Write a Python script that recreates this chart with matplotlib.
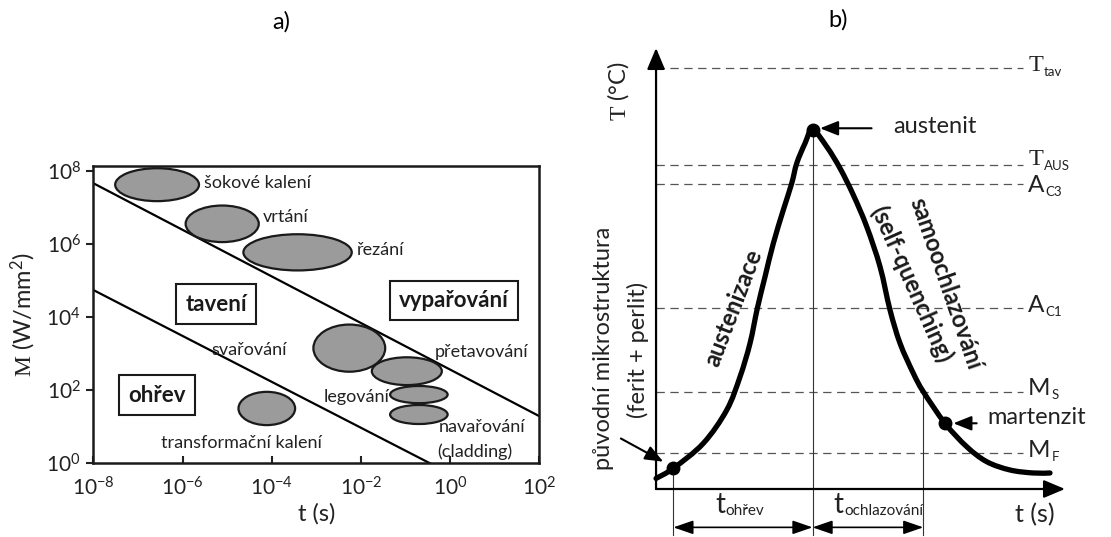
import matplotlib
matplotlib.use("Agg")
import matplotlib.pyplot as plt
from matplotlib.patches import Ellipse, PathPatch
from matplotlib.path import Path

plt.rcParams["font.family"] = ["Lato", "DejaVu Sans"]
plt.rcParams["mathtext.fontset"] = "custom"
plt.rcParams["mathtext.default"] = "regular"
plt.rcParams["mathtext.tt"] = "Liberation Serif"
plt.rcParams["lines.scale_dashes"] = False
plt.rcParams["axes.unicode_minus"] = False

# ---- a) process map, everything in decades (log10 t, log10 M) ----
proc_names = ["šokové kalení", "vrtání", "řezání", "svařování", "přetavování",
              "legování", "navařování", "transformační kalení"]
proc_logt = [-6.57, -5.11, -3.42, -2.26, -0.97, -0.70, -0.70, -4.11]
proc_logM = [7.62, 6.55, 5.77, 3.15, 2.52, 1.88, 1.335, 1.50]
proc_span_t = [1.88, 1.64, 2.43, 1.61, 1.57, 1.29, 1.29, 1.27]
proc_span_M = [0.90, 1.00, 0.99, 1.29, 0.76, 0.47, 0.52, 0.91]

# regime boundaries
vapor_t = [-8, 2]
vapor_M = [7.66, 1.29]
melt_t = [-8, -0.45]
melt_M = [4.74, 0]

regions = ["tavení", "vypařování", "ohřev"]
region_t = [-5.25, 0.09, -6.58]
region_M = [4.35, 4.45, 1.86]

x_ticks = [-8, -6, -4, -2, 0, 2]
y_ticks = [0, 2, 4, 6, 8]

# ---- b) temperature cycle of laser hardening ----
level_main = ["T", "T", "A", "A", "M", "M"]
level_sub = ["tav", "AUS", "C3", "C1", "S", "F"]
level_T = [95.4, 73.5, 69.1, 41.0, 22.1, 8.05]

cycle_t = [0.0, 4.23, 11.56, 17.29, 20.54, 22.98, 24.77, 26.65, 28.68, 31.12,
           33.18, 34.40, 36.43, 38.26, 41.74, 44.99, 48.24, 51.52, 54.77,
           57.21, 59.66, 62.91, 65.35, 70.66, 75.97, 80.86, 86.55, 92.25, 96.33]
cycle_T = [2.4, 4.69, 10.36, 17.91, 25.46, 33.04, 40.98, 48.14, 55.71, 63.27,
           69.32, 73.85, 78.39, 81.52, 77.62, 72.72, 66.67, 59.48, 50.41,
           40.59, 33.04, 26.24, 22.06, 14.90, 9.59, 6.19, 4.31, 3.63, 3.63]

start_pt = (4.23, 4.69)
peak_pt = (38.26, 81.52)
mart_pt = (70.66, 14.90)
ms_cross_t = 65.35


def smooth_path(xs, ys):
    # Catmull-Rom through the points, written as cubic Bezier segments
    pts = list(zip(xs, ys))
    n = len(pts)
    verts = [pts[0]]
    codes = [Path.MOVETO]
    for i in range(n - 1):
        p0 = pts[max(i - 1, 0)]
        p1 = pts[i]
        p2 = pts[i + 1]
        p3 = pts[min(i + 2, n - 1)]
        c1 = (p1[0] + (p2[0] - p0[0]) / 6, p1[1] + (p2[1] - p0[1]) / 6)
        c2 = (p2[0] - (p3[0] - p1[0]) / 6, p2[1] - (p3[1] - p1[1]) / 6)
        verts += [c1, c2, p2]
        codes += [Path.CURVE4] * 3
    return Path(verts, codes)


def sub_text(ax, x, y, main, sub, fs, sub_fs, main_family=None, sub_y=0.0):
    kw = {"family": main_family} if main_family else {}
    t = ax.text(x, y, main, ha="left", va="center", fontsize=fs,
                color="#222222", **kw)
    ax.annotate(sub, xy=(1.0, sub_y), xycoords=t, xytext=(0.5, 0),
                textcoords="offset points", ha="left", va="bottom",
                fontsize=sub_fs, color="#222222")
    return t


fig = plt.figure(figsize=(11.11, 5.37), dpi=100)

# ------------------------------------------------------------------ a)
ax = fig.add_axes([0.0840, 0.1372, 0.4014, 0.5536])
ax.set_xlim(-8, 2)
ax.set_ylim(0, 8.13)

ax.plot(vapor_t, vapor_M, color="black", lw=1.6, zorder=2)
ax.plot(melt_t, melt_M, color="black", lw=1.6, zorder=2)

for t, m, w, h in zip(proc_logt, proc_logM, proc_span_t, proc_span_M):
    ax.add_patch(Ellipse((t, m), w, h, facecolor="#9b9b9b",
                         edgecolor="#1a1a1a", lw=1.6, zorder=3))

lab_fs = 13
label_pos = {
    "šokové kalení": (-5.52, 7.66, "left"),
    "vrtání": (-4.19, 6.75, "left"),
    "řezání": (-2.08, 5.84, "left"),
    "svařování": (-5.35, 3.10, "left"),
    "přetavování": (-0.34, 3.05, "left"),
    "legování": (-1.35, 1.82, "right"),
    "navařování": (-0.26, 1.00, "left"),
    "transformační kalení": (-6.49, 0.55, "left"),
}
for name in proc_names:
    x, y, ha = label_pos[name]
    ax.text(x, y, name, ha=ha, va="center", fontsize=lab_fs,
            color="#222222", zorder=4)
ax.text(-0.29, 0.32, "(cladding)", ha="left", va="center",
        fontsize=lab_fs, color="#222222", zorder=4)

for name, t, m in zip(regions, region_t, region_M):
    ax.text(t, m, name, ha="center", va="center", fontsize=16,
            fontweight="bold", color="#1a1a1a", zorder=4,
            bbox=dict(boxstyle="square,pad=0.42", facecolor="white",
                      edgecolor="#1a1a1a", lw=1.5))

ax.set_xticks(x_ticks)
ax.set_xticklabels([r"$10^{%d}$" % v for v in x_ticks])
ax.set_yticks(y_ticks)
ax.set_yticklabels([r"$10^{%d}$" % v for v in y_ticks])
ax.tick_params(axis="x", direction="in", length=5, width=1.5,
               labelsize=15, pad=9, colors="#222222")
ax.tick_params(axis="y", direction="out", length=5, width=1.5,
               labelsize=15, pad=4, colors="#222222")
for s in ax.spines.values():
    s.set_linewidth(1.8)
    s.set_color("#1a1a1a")

ax.set_xlabel("t (s)", fontsize=17, color="#222222", labelpad=3)
ax.set_ylabel(r"$\mathtt{M}$ (W/mm$^2$)", fontsize=17, color="#222222",
              labelpad=6)

fig.text(281 / 1111, 1 - 22 / 537, "a)", ha="center", va="center",
         fontsize=17)

# ------------------------------------------------------------------ b)
bx = fig.add_axes([0.5905, 0.0894, 0.3681, 0.8212])
bx.set_xlim(0, 100)
bx.set_ylim(0, 100)
bx.axis("off")

axis_arrow = dict(arrowstyle="-|>,head_length=1.0,head_width=0.42",
                  mutation_scale=13, lw=1.6, color="black",
                  shrinkA=0, shrinkB=0)
bx.annotate("", xy=(0, 100), xytext=(0, 0), arrowprops=axis_arrow,
            annotation_clip=False)
bx.annotate("", xy=(100, 0), xytext=(0, 0), arrowprops=axis_arrow,
            annotation_clip=False)

# small nudges keep the two close labels (T_AUS, A_C3) apart
label_nudge = [0.6, 1.2, -0.3, 0.6, 0.6, 0.6]
for main, sub, T, dy in zip(level_main, level_sub, level_T, label_nudge):
    bx.plot([0, 89.7], [T, T], ls=(0, (6, 4)), lw=0.9, color="#555555",
            zorder=1)
    fam = "Liberation Serif" if main == "T" else None
    sub_text(bx, 91.0, T + dy, main, sub, 17.5, 9.5, fam, sub_y=-0.08)

# time markers below the axis
bottom = -10.4
for t, T in [start_pt, peak_pt, (ms_cross_t, level_T[4])]:
    bx.plot([t, t], [bottom, T], color="#333333", lw=0.8, zorder=1,
            clip_on=False)

span_arrow = dict(arrowstyle="<|-|>,head_length=1.1,head_width=0.38",
                  mutation_scale=11, lw=1.2, color="black",
                  shrinkA=0, shrinkB=0)
bx.annotate("", xy=(peak_pt[0], -8.7), xytext=(start_pt[0], -8.7),
            arrowprops=span_arrow, annotation_clip=False)
bx.annotate("", xy=(ms_cross_t, -8.7), xytext=(peak_pt[0], -8.7),
            arrowprops=span_arrow, annotation_clip=False)
sub_text(bx, 14.4, -3.6, "t", "ohřev", 20, 11)
sub_text(bx, 43.4, -3.6, "t", "ochlazování", 20, 11)
bx.text(92.5, -5.9, "t (s)", ha="center", va="center", fontsize=18,
        color="#222222")

bx.add_patch(PathPatch(smooth_path(cycle_t, cycle_T), facecolor="none",
                       edgecolor="black", lw=3.8, capstyle="round",
                       joinstyle="round", zorder=3, clip_on=False))
for p in (start_pt, peak_pt, mart_pt):
    bx.plot(*p, "o", color="black", ms=9, zorder=4)

point_arrow = dict(arrowstyle="-|>,head_length=1.0,head_width=0.4",
                   mutation_scale=11, lw=1.5, color="black",
                   shrinkA=0, shrinkB=0)
bx.annotate("", xy=(40.1, 81.8), xytext=(52.7, 81.8),
            arrowprops=point_arrow, annotation_clip=False)
bx.text(57.9, 82.2, "austenit", ha="left", va="center", fontsize=17,
        color="#222222")
bx.annotate("", xy=(72.7, 14.9), xytext=(78.4, 14.9),
            arrowprops=point_arrow, annotation_clip=False)
bx.text(80.9, 16.1, "martenzit", ha="left", va="center", fontsize=17,
        color="#222222")
bx.annotate("", xy=(1.78, 6.19), xytext=(-8.6, 11.45),
            arrowprops=point_arrow, annotation_clip=False)

bx.text(-9.2, 90.2, r"$\mathtt{T}$ (°C)", rotation=90, ha="center",
        va="center", fontsize=17, color="#222222")
bx.text(-12.8, 31.8, "původní mikrostruktura", rotation=90, ha="center",
        va="center", fontsize=17, color="#222222")
bx.text(-4.5, 31.6, "(ferit + perlit)", rotation=90, ha="center",
        va="center", fontsize=17, color="#222222")

bx.text(18.9, 41.0, "austenizace", rotation=69, rotation_mode="anchor",
        ha="center", va="center", fontsize=17, fontweight="bold",
        color="#1a1a1a")
bx.text(70.9, 46.5, "samoochlazování", rotation=-71, rotation_mode="anchor",
        ha="center", va="center", fontsize=17, fontweight="bold",
        color="#1a1a1a")
bx.text(62.3, 46.5, "(self-quenching)", rotation=-66, rotation_mode="anchor",
        ha="center", va="center", fontsize=17, fontweight="bold",
        color="#1a1a1a")

fig.text(838 / 1111, 1 - 20 / 537, "b)", ha="center", va="center",
         fontsize=17)

fig.savefig("out.png", dpi=100)
